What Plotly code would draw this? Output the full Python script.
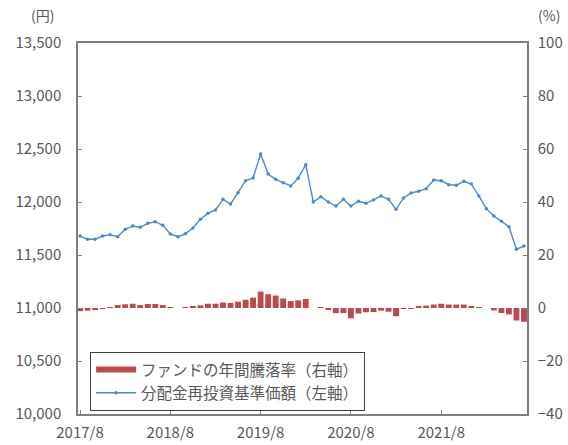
import plotly.graph_objects as go
import pandas as pd

months = [f"{d.year}/{d.month}" for d in pd.date_range("2017-08-01", periods=60, freq="MS")]

nav = [11679, 11648, 11648, 11679, 11691, 11673, 11742, 11774, 11761, 11799,
       11814, 11780, 11698, 11673, 11700, 11755, 11837, 11893, 11925, 12025,
       11981, 12088, 12201, 12226, 12453, 12264, 12214, 12182, 12151, 12225,
       12352, 12000, 12050, 12000, 11962, 12025, 11962, 12007, 11988, 12019,
       12057, 12025, 11931, 12038, 12085, 12101, 12125, 12207, 12201, 12163,
       12158, 12195, 12170, 12057, 11937, 11868, 11818, 11767, 11554, 11585]

ret = [-1.2, -1.0, -0.8, -0.2, 0.3, 1.1, 1.4, 1.6, 1.1, 1.5,
       1.5, 1.1, 0.1, 0.0, 0.1, 0.5, 1.0, 1.6, 1.6, 2.1,
       1.9, 2.4, 3.1, 3.9, 6.2, 5.2, 4.7, 3.6, 2.6, 2.9,
       3.4, 0.0, 0.2, -0.4, -1.9, -1.9, -3.9, -2.1, -1.6, -1.5,
       -1.0, -1.4, -3.1, -0.2, -0.1, 0.4, 0.9, 1.3, 1.6, 1.3,
       1.3, 1.3, 0.6, 0.1, 0.0, -0.9, -1.9, -2.4, -4.7, -5.2]

tick_labels = ["2017/8", "2018/8", "2019/8", "2020/8", "2021/8"]
left_ticks = [10000, 10500, 11000, 11500, 12000, 12500, 13000, 13500]
right_ticks = [-40, -20, 0, 20, 40, 60, 80, 100]

name_bar = "ファンドの年間騰落率（右軸）"
name_line = "分配金再投資基準価額（左軸）"

RED = "#bb4a4e"
BLUE = "#5089c8"
GRAY = "#595959"
AXIS = "#7f7f7f"
FONT = "Noto Sans CJK JP"

fig = go.Figure()
fig.add_trace(go.Bar(x=months, y=ret, yaxis="y2", marker=dict(color=RED, line=dict(width=0)),
                     name=name_bar, showlegend=False, legendgroup="bar"))
fig.add_trace(go.Scatter(x=[None], y=[None], mode="lines", line=dict(color=RED, width=6),
                         name=name_bar, legendgroup="bar", showlegend=True))
fig.add_trace(go.Scatter(x=months, y=nav, mode="lines+markers", name=name_line,
                         line=dict(color=BLUE, width=1.4), marker=dict(color=BLUE, size=3.5)))

fig.update_layout(
    width=568, height=445,
    margin=dict(l=78, r=41, t=43, b=31, autoexpand=False),
    paper_bgcolor="white", plot_bgcolor="white",
    font=dict(family=FONT, size=15, color=GRAY),
    bargap=0.22,
    showlegend=True,
    legend=dict(x=0.027, y=0.167, xanchor="left", yanchor="top",
                bgcolor="white", bordercolor="#404040", borderwidth=1,
                font=dict(family=FONT, size=15.5, color=GRAY),
                traceorder="normal", tracegroupgap=0, itemwidth=40),
    xaxis=dict(type="category", categoryorder="array", categoryarray=months,
               range=[-0.27, 59.4], tickmode="array", tickvals=tick_labels, ticktext=tick_labels,
               ticks="inside", ticklen=4, tickcolor=AXIS, showline=True, linecolor=AXIS,
               linewidth=1.5, mirror=True, showgrid=False, zeroline=False, automargin=False,
               ticklabelstandoff=4, tickfont=dict(size=15, color=GRAY)),
    yaxis=dict(range=[10000, 13500], tickvals=left_ticks, tickformat=",", ticks="inside",
               ticklen=4, tickcolor=AXIS, showline=True, linecolor=AXIS, linewidth=1.5,
               showgrid=False, zeroline=False, automargin=False, ticklabelstandoff=12,
               tickfont=dict(size=15, color=GRAY)),
    yaxis2=dict(range=[-40, 100], tickvals=right_ticks, overlaying="y", side="right",
                ticks="inside", ticklen=4, tickcolor=AXIS, showline=True, linecolor=AXIS,
                linewidth=1.5, showgrid=False, zeroline=False, automargin=False,
                ticklabelstandoff=6, tickfont=dict(size=15, color=GRAY)),
    annotations=[
        dict(text="(円)", xref="paper", yref="paper", x=-0.05, y=1.0, yshift=16,
             xanchor="right", yanchor="bottom", showarrow=False, font=dict(size=14, color=GRAY)),
        dict(text="(%)", xref="paper", yref="paper", x=1.02, y=1.0, yshift=16,
             xanchor="left", yanchor="bottom", showarrow=False, font=dict(size=14, color=GRAY)),
    ],
)

fig.write_html("out.html", config={"displayModeBar": False},
               post_script="document.body.style.margin='0';document.body.style.overflow='hidden';")
